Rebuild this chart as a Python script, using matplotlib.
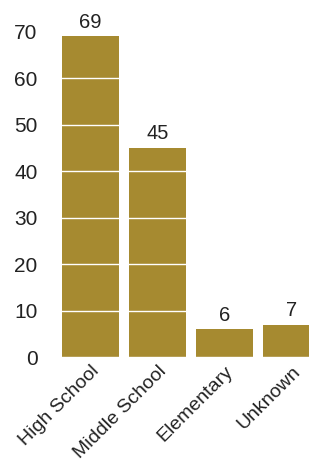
import matplotlib.pyplot as plt
import numpy as np

labels = ['High School', 'Middle School', 'Elementary', 'Unknown']
counts = [69, 45, 6, 7]
yticks = [0, 10, 20, 30, 40, 50, 60, 70]

plt.rcParams['font.family'] = ['Liberation Sans', 'DejaVu Sans']

fig = plt.figure(figsize=(3.10, 4.62), dpi=100)
ax = fig.add_axes([0.184, 0.227, 0.813, 0.755])

x = np.arange(len(labels))
bars = ax.bar(x, counts, width=0.85, color='#a68a30')

for b, v in zip(bars, counts):
    ax.text(b.get_x() + b.get_width() / 2, v + 1.0, str(v),
            ha='center', va='bottom', fontsize=14.5, color='#222222')

ax.set_xlim(-0.5, 3.26)
ax.set_ylim(0, 75)
ax.set_yticks(yticks)
ax.set_xticks(x)
ax.set_xticklabels(labels, rotation=45, ha='right', rotation_mode='anchor')
ax.tick_params(axis='both', length=0, colors='#222222')
ax.tick_params(axis='y', pad=14, labelsize=15)
ax.tick_params(axis='x', pad=4, labelsize=14)

ax.set_axisbelow(False)
ax.grid(axis='y', color='white', linewidth=1)
for s in ax.spines.values():
    s.set_visible(False)

plt.savefig('out.png', dpi=100)
